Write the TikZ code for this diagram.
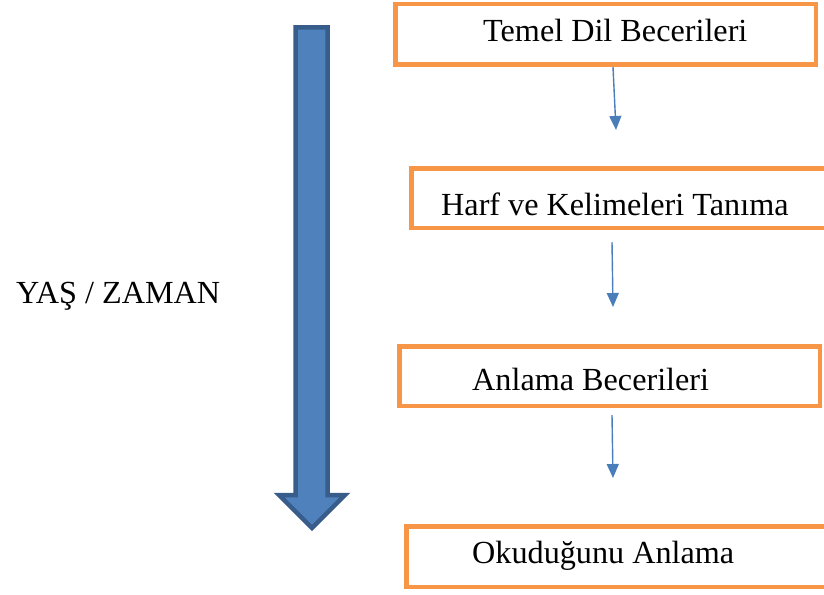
\documentclass[tikz,border=0pt]{standalone}
\usepackage{fontspec}
\setmainfont{Liberation Serif}
\usetikzlibrary{arrows.meta}
\definecolor{boxorange}{HTML}{F79646}
\definecolor{flowblue}{HTML}{4A7EBB}
\definecolor{bigfill}{HTML}{4F81BD}
\definecolor{bigline}{HTML}{385D8A}
\tikzset{
  stagebox/.style={draw=boxorange, line width=4.5pt, rectangle, inner sep=0pt, fill=none},
  stagetext/.style={anchor=base west, inner sep=0pt, font=\fontsize{32.2}{36}\selectfont},
  flow/.style={draw=flowblue, line width=1.4pt, -{Triangle[width=12pt,length=14pt]}},
  bigarrow/.style={draw=bigline, fill=bigfill, line width=4.5pt, line join=miter}
}
\begin{document}
\begin{tikzpicture}[x=1pt,y=-1pt]
\useasboundingbox (0,0) rectangle (824,594);
% big time arrow
\draw[bigarrow] (295.5,27.5) -- (327.5,27.5) -- (327.5,495) -- (345,495) -- (312,528) -- (279,495) -- (295.5,495) -- cycle;
\node[stagetext] (t0) at (16,303) {YAŞ / ZAMAN};
% boxes
\node[stagebox, minimum width=420.5pt, minimum height=60.5pt] (b1) at (605.5,34.5) {};
\node[stagebox, minimum width=420pt, minimum height=59.5pt] (b2) at (621.25,198) {};
\node[stagebox, minimum width=420.5pt, minimum height=59.5pt] (b3) at (609.5,376) {};
\node[stagebox, minimum width=420pt, minimum height=60.5pt] (b4) at (616.25,556.5) {};
% texts
\node[stagetext] (t1) at (483,42) {Temel Dil Becerileri};
\node[stagetext] (t2) at (441,215) {Harf ve Kelimeleri Tanıma};
\node[stagetext] (t3) at (472,390) {Anlama Becerileri};
\node[stagetext] (t4) at (472,563) {Okuduğunu Anlama};
% flow arrows
\coordinate (e1) at (616,130);
\coordinate (e2) at (613,307);
\coordinate (e3) at (613,478);
\draw[flow] ([xshift=7.5pt]b1.south) -- (e1);
\draw[flow] ([xshift=-9.25pt,yshift=-12.25pt]b2.south) -- (e2);
\draw[flow] ([xshift=2.5pt,yshift=-7pt]b3.south) -- (e3);
\end{tikzpicture}
\end{document}
